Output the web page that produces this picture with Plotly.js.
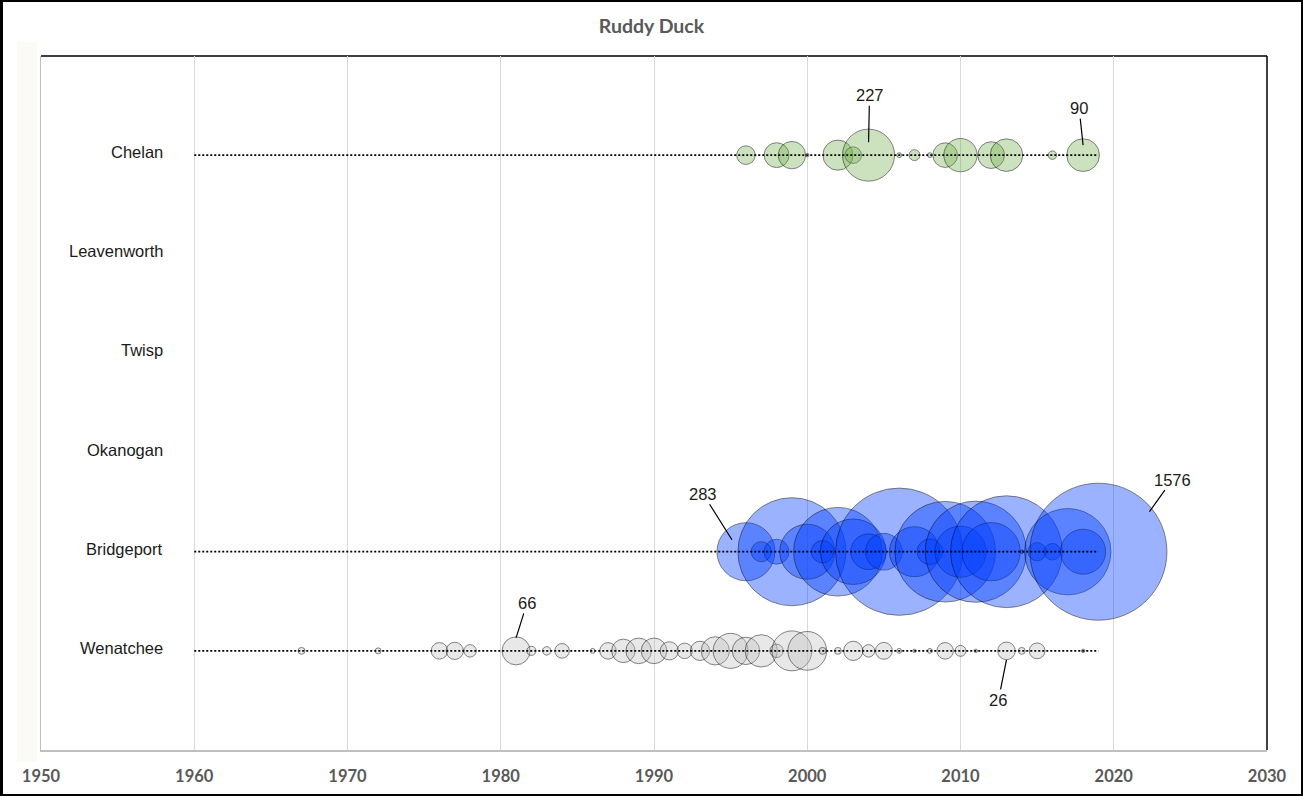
<!DOCTYPE html>
<html><head><meta charset="utf-8">
<script src="https://cdn.plot.ly/plotly-3.0.1.min.js"></script>
<style>
html,body{margin:0;padding:0;background:#fff;}
#wrap{position:relative;width:1303px;height:796px;}
#chart{width:1303px;height:796px;}
#frame{position:absolute;left:0;top:0;width:1303px;height:796px;box-sizing:border-box;border:2px solid #000;border-left-width:3px;pointer-events:none;}
</style>
</head><body>
<div id="wrap"><div id="chart"></div><div id="frame"></div></div>
<script>
// ---- data ----
const sites = ['Wenatchee', 'Bridgeport', 'Okanogan', 'Twisp', 'Leavenworth', 'Chelan'];
const sitePositions = [1, 2, 3, 4, 5, 6];
const xTicks = [1950, 1960, 1970, 1980, 1990, 2000, 2010, 2020, 2030];
const lineSpan = [1960, 2019];

const chelanYears = [1996, 1998, 1999, 2000, 2002, 2003, 2004, 2006, 2007, 2008, 2009, 2010, 2012, 2013, 2016, 2018];
const chelanCounts = [29, 52, 63, 1, 76, 23, 227, 2, 10, 2, 51, 93, 60, 89, 6, 90];

const bridgeportYears = [1996, 1997, 1998, 1999, 2000, 2001, 2002, 2003, 2004, 2005, 2006, 2007, 2008, 2009, 2010, 2011, 2012, 2013, 2014, 2015, 2016, 2017, 2018, 2019];
const bridgeportCounts = [283, 34, 52, 980, 254, 42, 660, 360, 107, 113, 1360, 210, 55, 850, 220, 860, 285, 1050, 1, 28, 23, 625, 170, 1576];

const wenatcheeYears = [1967, 1972, 1976, 1977, 1978, 1981, 1982, 1983, 1984, 1986, 1987, 1988, 1989, 1990, 1991, 1992, 1993, 1994, 1995, 1996, 1997, 1998, 1999, 2000, 2001, 2002, 2003, 2004, 2005, 2006, 2007, 2008, 2009, 2010, 2011, 2013, 2014, 2015, 2018];
const wenatcheeCounts = [4, 3, 23, 25, 13, 66, 7, 6, 18, 2, 23, 46, 55, 55, 28, 20, 31, 67, 103, 63, 88, 15, 134, 126, 4, 4, 31, 13, 24, 2, 1, 2, 23, 10, 1, 26, 4, 21, 1];

// ---- styling ----
const series = [
  {site: 'Wenatchee', years: wenatcheeYears, counts: wenatcheeCounts, fill: 'rgba(191,191,191,0.5)'},
  {site: 'Bridgeport', years: bridgeportYears, counts: bridgeportCounts, fill: 'rgba(0,60,255,0.56)'},
  {site: 'Chelan', years: chelanYears, counts: chelanCounts, fill: 'rgba(112,173,71,0.5)'}
];
const callouts = [
  {site: 'Chelan', year: 2004, ax: 1, ay: -47, xs: 0, ys: 13},
  {site: 'Chelan', year: 2018, ax: -4, ay: -37, xs: 0, ys: 10},
  {site: 'Bridgeport', year: 1996, ax: -29, ay: -46, xs: -14, ys: 12},
  {site: 'Bridgeport', year: 2019, ax: 23, ay: -32, xs: 51, ys: 40},
  {site: 'Wenatchee', year: 1981, ax: 11, ay: -35, xs: 0, ys: 13},
  {site: 'Wenatchee', year: 2013, ax: -8, ay: 40, xs: 0, ys: -9}
];

const posOf = s => sitePositions[sites.indexOf(s)];
const allCounts = [].concat(chelanCounts, bridgeportCounts, wenatcheeCounts);
const maxCount = Math.max.apply(null, allCounts);
const maxDiameter = 137;
const sizeref = 2 * maxCount / (maxDiameter * maxDiameter);

const traces = [];
series.forEach(s => {
  traces.push({
    type: 'scatter', mode: 'markers',
    x: s.years, y: s.years.map(() => posOf(s.site)),
    marker: {size: s.counts, sizemode: 'area', sizeref: sizeref, color: s.fill,
             line: {color: 'rgba(0,0,0,0.85)', width: 0.8}},
    hoverinfo: 'x+text', text: s.counts.map(String), showlegend: false
  });
});
series.forEach(s => {
  traces.push({
    type: 'scatter', mode: 'lines',
    x: lineSpan, y: lineSpan.map(() => posOf(s.site)),
    line: {color: '#000', width: 1.8, dash: '2px,2px'},
    hoverinfo: 'skip', showlegend: false
  });
});

const annotations = [];
sites.forEach((s, i) => {
  annotations.push({
    x: 1958.1, y: sitePositions[i], xref: 'x', yref: 'y', xanchor: 'right', yanchor: 'middle',
    yshift: 3, text: s, showarrow: false,
    font: {family: 'Liberation Sans, Arial, sans-serif', size: 16.5, color: '#1a1a1a'}
  });
});
callouts.forEach(c => {
  const ser = series.find(s => s.site === c.site);
  const val = ser.counts[ser.years.indexOf(c.year)];
  annotations.push({
    x: c.year, y: posOf(c.site), xref: 'x', yref: 'y',
    text: String(val), showarrow: true, arrowhead: 0, arrowwidth: 1.2, arrowcolor: '#000',
    standoff: 0, ax: c.ax, ay: c.ay, xshift: c.xs, yshift: c.ys,
    font: {family: 'Liberation Sans, Arial, sans-serif', size: 16.5, color: '#1a1a1a'}
  });
});

const layout = {
  width: 1303, height: 796,
  margin: {l: 41, r: 36, t: 56, b: 46, pad: 0},
  paper_bgcolor: '#ffffff', plot_bgcolor: '#ffffff',
  title: {text: 'Ruddy Duck', x: 0.5, xanchor: 'center', y: 0.967, yanchor: 'middle', yref: 'container',
          font: {family: 'Lato, Open Sans, sans-serif', size: 19.5, color: '#595959', weight: 'bold'}},
  xaxis: {range: [1950, 2030], tickvals: xTicks, ticktext: xTicks.map(String),
          showgrid: true, gridcolor: '#d9d9d9', gridwidth: 1,
          showline: true, linecolor: '#bfbfbf', linewidth: 1.5, zeroline: false,
          ticks: '', ticklabelstandoff: 11,
          tickfont: {family: 'Lato, Open Sans, sans-serif', size: 16.5, color: '#595959', weight: 'bold'}},
  yaxis: {range: [0, 7], showgrid: false, showticklabels: false, ticks: '',
          showline: true, linecolor: '#bfbfbf', linewidth: 1.5, zeroline: false},
  shapes: [
    {type: 'line', xref: 'paper', yref: 'paper', x0: 0, x1: 1, y0: 1, y1: 1, line: {color: '#000', width: 1.5}, layer: 'below'},
    {type: 'line', xref: 'paper', yref: 'paper', x0: 1, x1: 1, y0: 0, y1: 1, line: {color: '#000', width: 1.5}, layer: 'below'},
    {type: 'rect', xref: 'paper', yref: 'paper', x0: -0.0196, x1: -0.0033, y0: -0.017, y1: 1.02, line: {width: 0}, fillcolor: '#fcfaf6', layer: 'below'}
  ],
  annotations: annotations,
  showlegend: false, hovermode: 'closest'
};

Plotly.newPlot('chart', traces, layout, {displayModeBar: false, staticPlot: true});
</script>
</body></html>
